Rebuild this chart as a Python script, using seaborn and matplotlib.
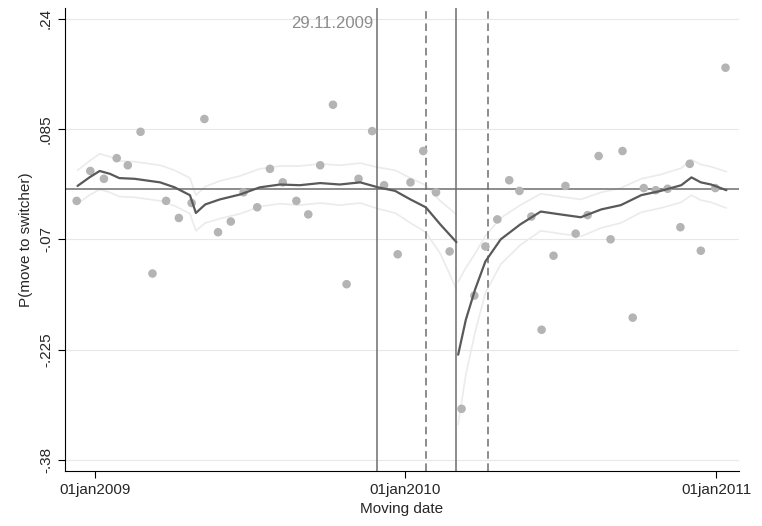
import numpy as np, pandas as pd, matplotlib
matplotlib.use("Agg")
import matplotlib.pyplot as plt, matplotlib.dates as mdates
import seaborn as sns

sns.set_style("white")
plt.rcParams['font.family'] = ['Liberation Sans', 'DejaVu Sans']

base = pd.Timestamp("2009-01-01")
pt_days = [-21,-5,11,26,39,54,68,84,99,114,129,145,160,175,191,206,221,237,251,265,280,296,310,326,340,356,371,386,401,417,431,446,459,473,487,499,513,525,539,553,565,579,592,606,620,632,645,659,673,688,699,712,729,741]
pt_vals = [-0.016,0.026,0.015,0.044,0.034,0.081,-0.118,-0.016,-0.040,-0.019,0.099,-0.060,-0.045,-0.004,-0.025,0.029,0.010,-0.016,-0.035,0.034,0.119,-0.133,0.015,0.082,0.006,-0.091,0.010,0.054,-0.004,-0.087,-0.308,-0.149,-0.080,-0.042,0.013,-0.002,-0.038,-0.197,-0.093,0.005,-0.062,-0.036,0.047,-0.070,0.054,-0.180,0.002,-0.001,0.001,-0.053,0.036,-0.086,0.002,0.171]

pre_days = [-20,-6,6,18,29,47,65,77,94,112,119,130,147,171,194,218,241,265,288,312,333,353,371,389,406,425]
pre_vals = [0.005,0.017,0.026,0.022,0.016,0.015,0.012,0.010,0.003,-0.008,-0.033,-0.021,-0.014,-0.007,0.003,0.007,0.006,0.009,0.007,0.010,0.003,-0.002,-0.014,-0.025,-0.049,-0.074]
pre_up  = [0.027,0.040,0.050,0.046,0.040,0.039,0.036,0.034,0.027,0.016,-0.008,0.004,0.012,0.019,0.029,0.033,0.033,0.036,0.034,0.037,0.031,0.027,0.016,0.006,-0.016,-0.035]
pre_lo  = [-0.020,-0.008,0.000,-0.004,-0.010,-0.011,-0.014,-0.016,-0.023,-0.034,-0.058,-0.047,-0.041,-0.034,-0.024,-0.020,-0.022,-0.019,-0.022,-0.019,-0.027,-0.033,-0.047,-0.060,-0.090,-0.140]
post_days = [427,436,447,459,477,500,524,547,571,595,618,642,665,689,701,712,724,742]
post_vals = [-0.232,-0.183,-0.140,-0.101,-0.070,-0.049,-0.031,-0.035,-0.039,-0.028,-0.022,-0.008,-0.002,0.006,0.017,0.010,0.007,-0.001]
post_up = [-0.130,-0.110,-0.090,-0.065,-0.040,-0.022,-0.006,-0.010,-0.014,-0.004,0.002,0.015,0.021,0.030,0.042,0.035,0.032,0.025]
post_lo = [-0.330,-0.260,-0.200,-0.145,-0.105,-0.078,-0.058,-0.062,-0.066,-0.054,-0.047,-0.032,-0.026,-0.018,-0.008,-0.015,-0.018,-0.026]

vlines_solid = ["2009-11-29", "2010-03-01"]
vlines_dash = ["2010-01-25", "2010-04-08"]
yticks = [0.24, 0.085, -0.07, -0.225, -0.38]
ylabels = [".24", ".085", "-.07", "-.225", "-.38"]

d = lambda L: [base + pd.Timedelta(days=x) for x in L]
fig, ax = plt.subplots(figsize=(7.62, 5.26), dpi=100)
fig.subplots_adjust(left=0.085, right=0.97, top=0.985, bottom=0.105)
for y in yticks:
    ax.axhline(y, color="#e8e8e8", lw=0.8, zorder=0)
light = "#ebebeb"
for days, up, lo in [(pre_days, pre_up, pre_lo), (post_days, post_up, post_lo)]:
    sns.lineplot(x=d(days), y=up, ax=ax, color=light, lw=1.2)
    sns.lineplot(x=d(days), y=lo, ax=ax, color=light, lw=1.2)
sns.scatterplot(x=d(pt_days), y=pt_vals, ax=ax, color="#b4b4b4", s=38, edgecolor="none", zorder=3)
for days, vals in [(pre_days, pre_vals), (post_days, post_vals)]:
    sns.lineplot(x=d(days), y=vals, ax=ax, color="#595959", lw=1.6, zorder=4)
ax.axhline(0, color="#6e6e6e", lw=1.1)
for v in vlines_solid:
    ax.axvline(pd.Timestamp(v), color="#6e6e6e", lw=1.1)
for v in vlines_dash:
    ax.axvline(pd.Timestamp(v), color="#6e6e6e", lw=1.1, ls=(0, (5, 3)))
ax.text(pd.Timestamp("2009-11-24"), 0.233, "29.11.2009", color="#8c8c8c", ha="right", va="center", fontsize=12)
ax.set_xlim(pd.Timestamp("2008-11-27"), pd.Timestamp("2011-01-28"))
ax.set_ylim(-0.395, 0.255)
ax.set_yticks(yticks)
ax.set_yticklabels(ylabels, rotation=90, va="center")
ax.set_xticks([pd.Timestamp("2009-01-01"), pd.Timestamp("2010-01-01"), pd.Timestamp("2011-01-01")])
ax.set_xticklabels(["01jan2009", "01jan2010", "01jan2011"])
ax.tick_params(axis="both", labelsize=11, length=5, direction="out", color="black", bottom=True, left=True)
for s in ["top", "right"]:
    ax.spines[s].set_visible(False)
for s in ["left", "bottom"]:
    ax.spines[s].set_color("black")
ax.set_xlabel("Moving date", fontsize=11)
ax.set_ylabel("P(move to switcher)", fontsize=11)
fig.savefig("out.png", dpi=100)
